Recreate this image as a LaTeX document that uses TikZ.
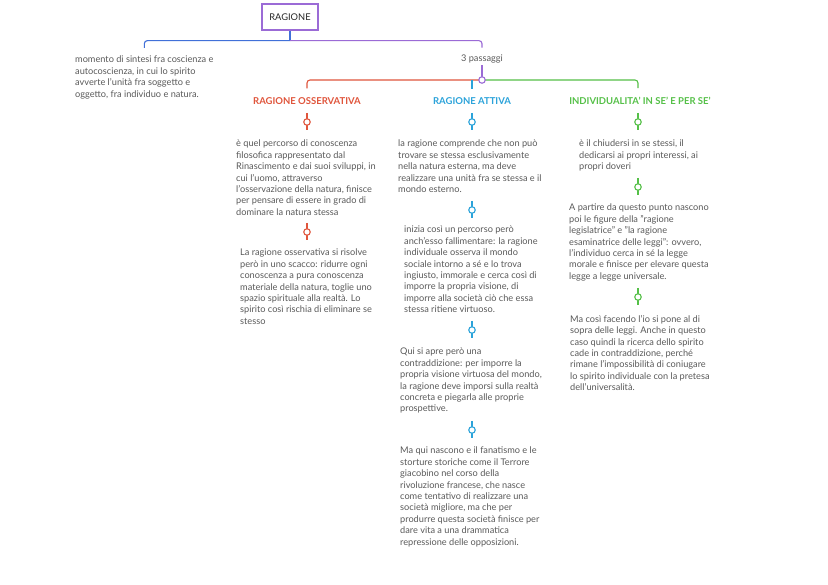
\documentclass[tikz,border=0pt]{standalone}
\usepackage{fontspec}
\setmainfont{Lato}
\usetikzlibrary{calc}
\definecolor{txtgray}{HTML}{5A5A5A}
\definecolor{cpurple}{HTML}{9B6BD6}
\definecolor{cblue}{HTML}{4170D8}
\definecolor{cred}{HTML}{E0553C}
\definecolor{ccyan}{HTML}{2BA3DA}
\definecolor{cgreen}{HTML}{55C048}
\newcommand\mkmark[4]{%
  \draw[#2, conn] (#3,#4-9) -- (#3,#4+8);
  \node[mk, draw=#2] (#1) at (#3,#4) {};
}
\begin{document}
\begin{tikzpicture}[x=1pt,y=-1pt,
  conn/.style={line width=1.1pt},
  txt/.style={font=\fontsize{9.2}{11.4}\selectfont, text=txtgray, align=left, inner sep=0pt, anchor=north west},
  head/.style={font=\fontsize{9.5}{10}\selectfont\bfseries, inner sep=0pt},
  mk/.style={circle, fill=white, line width=1.1pt, inner sep=0pt, minimum size=6.5pt},
  rootbox/.style={draw=cpurple, line width=1.3pt, minimum width=56pt, minimum height=26pt, inner sep=0pt, font=\fontsize{9.3}{10}\selectfont, text=black!85}
]
\useasboundingbox[fill=white] (0,0) rectangle (828,585);

% root
\node[rootbox] (rag) at (290,17) {RAGIONE};
\node[txt] (sint) at (75,56) {momento di sintesi fra coscienza e\\autocoscienza, in cui lo spirito\\avverte l'unità fra soggetto e\\oggetto, fra individuo e natura.};
\node[font=\fontsize{9.2}{10}\selectfont, text=txtgray, inner sep=0pt] (pas) at (482,59) {3 passaggi};

\draw[cblue, conn] (rag.south) -- ++(0,10) coordinate (rj);
\draw[cblue, conn, rounded corners=3pt] (rj) -| ([yshift=8pt]sint.north);
\draw[cpurple, conn, rounded corners=3pt] (rj) -| ([yshift=7pt]pas.north);

% headers
\node[head, text=cred] (hr) at (307,101) {RAGIONE OSSERVATIVA};
\node[head, text=ccyan] (ha) at (472,101) {RAGIONE ATTIVA};
\node[head, text=cgreen] (hi) at (640,101) {INDIVIDUALITA' IN SE' E PER SE'};

\coordinate (hubc) at (482,80);
\draw[cpurple, conn] ([yshift=-2pt]pas.south) -- (hubc);
\draw[cred, conn, rounded corners=3pt] (hubc) -| ([yshift=9pt]hr.north);
\draw[cgreen, conn, rounded corners=3pt] (hubc) -| ([xshift=-2pt,yshift=9pt]hi.north);
\draw[ccyan, conn] (472,80) -- ([yshift=8pt]ha.north);
\node[mk, draw=cpurple] (hub) at (hubc) {};

% red column
\mkmark{r1}{cred}{307}{122}
\node[txt] (rt1) at (236,140) {è quel percorso di conoscenza\\filosofica rappresentato dal\\Rinascimento e dai suoi sviluppi, in\\cui l'uomo, attraverso\\l'osservazione della natura, finisce\\per pensare di essere in grado di\\dominare la natura stessa};
\mkmark{r2}{cred}{307}{232}
\node[txt] (rt2) at (240,249) {La ragione osservativa si risolve\\però in uno scacco: ridurre ogni\\conoscenza a pura conoscenza\\materiale della natura, toglie uno\\spazio spirituale alla realtà. Lo\\spirito così rischia di eliminare se\\stesso};

% blue column
\mkmark{a1}{ccyan}{472}{122}
\node[txt] (at1) at (398,140) {la ragione comprende che non può\\trovare se stessa esclusivamente\\nella natura esterna, ma deve\\realizzare una unità fra se stessa e il\\mondo esterno.};
\mkmark{a2}{ccyan}{472}{210}
\node[txt] (at2) at (404,226) {inizia così un percorso però\\anch'esso fallimentare: la ragione\\individuale osserva il mondo\\sociale intorno a sé e lo trova\\ingiusto, immorale e cerca così di\\imporre la propria visione, di\\imporre alla società ciò che essa\\stessa ritiene virtuoso.};
\mkmark{a3}{ccyan}{472}{330}
\node[txt] (at3) at (400,348) {Qui si apre però una\\contraddizione: per imporre la\\propria visione virtuosa del mondo,\\la ragione deve imporsi sulla realtà\\concreta e piegarla alle proprie\\prospettive.};
\mkmark{a4}{ccyan}{472}{430}
\node[txt] (at4) at (400,447) {Ma qui nascono e il fanatismo e le\\storture storiche come il Terrore\\giacobino nel corso della\\rivoluzione francese, che nasce\\come tentativo di realizzare una\\società migliore, ma che per\\produrre questa società finisce per\\dare vita a una drammatica\\repressione delle opposizioni.};

% green column
\mkmark{g1}{cgreen}{638}{122}
\node[txt] (gt1) at (579,140) {è il chiudersi in se stessi, il\\dedicarsi ai propri interessi, ai\\propri doveri};
\mkmark{g2}{cgreen}{638}{187}
\node[txt] (gt2) at (569,204) {A partire da questo punto nascono\\poi le figure della "ragione\\legislatrice" e "la ragione\\esaminatrice delle leggi": ovvero,\\l'individuo cerca in sé la legge\\morale e finisce per elevare questa\\legge a legge universale.};
\mkmark{g3}{cgreen}{638}{297}
\node[txt] (gt3) at (570,315) {Ma così facendo l'io si pone al di\\sopra delle leggi. Anche in questo\\caso quindi la ricerca dello spirito\\cade in contraddizione, perché\\rimane l'impossibilità di coniugare\\lo spirito individuale con la pretesa\\dell'universalità.};
\end{tikzpicture}
\end{document}
